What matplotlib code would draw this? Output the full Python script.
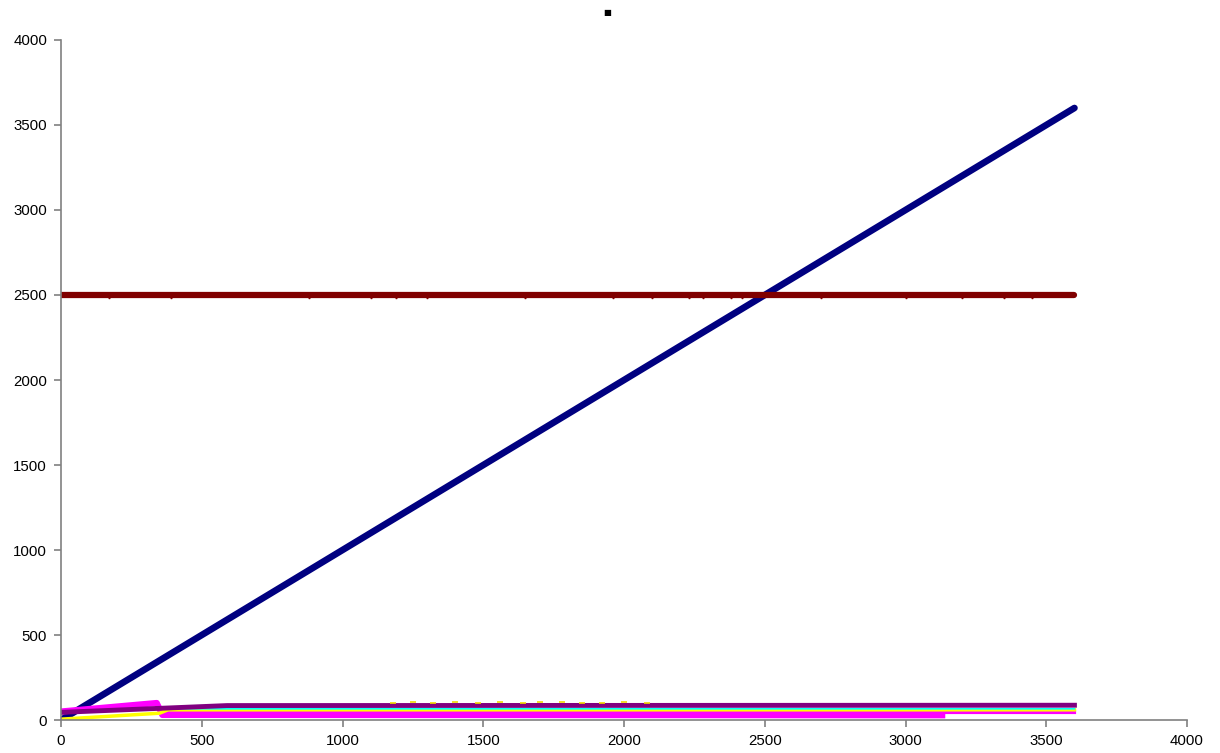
import matplotlib
matplotlib.use("Agg")
import matplotlib.pyplot as plt

plt.rcParams['font.family'] = ['Liberation Sans', 'DejaVu Sans']

# series data (x, y)
navy_x = [0, 3600]
navy_y = [0, 3600]

rojo_x = [0, 3600]
rojo_y = [2500, 2500]
rojo_ruido_x = [170, 390, 880, 1100, 1190, 1300, 1650, 1960, 2100, 2230,
                2280, 2380, 2420, 2700, 3000, 3200, 3350, 3450]
rojo_ruido_y = [2488, 2490, 2488, 2490, 2488, 2490, 2489, 2488, 2490, 2488,
                2489, 2490, 2488, 2490, 2489, 2488, 2490, 2489]

morado_x = [0, 590, 3600]
morado_y = [45, 85, 87]

magenta_x = [0, 340, 360, 3130]
magenta_y = [50, 100, 30, 28]
magenta2_x = [360, 3600]
magenta2_y = [45, 45]

cian_x = [0, 300, 3600]
cian_y = [50, 66, 66]

amarillo_x = [0, 350, 380, 3600]
amarillo_y = [5, 40, 60, 60]
amarillo_pts_x = [1180, 1250, 1320, 1400, 1480, 1560, 1640, 1700, 1780,
                  1850, 1920, 2000, 2080]
amarillo_pts_y = [103, 105, 102, 104, 103, 105, 102, 104, 105, 103, 102, 104, 103]

fig = plt.figure(figsize=(12.2, 7.53), dpi=100)
ax = fig.add_axes([0.05, 0.0438, 0.923, 0.9031])

ax.plot(navy_x, navy_y, color='#000080', lw=4.8, solid_capstyle='round')
ax.plot(rojo_x, rojo_y, color='#800000', lw=4.5, solid_capstyle='round')
ax.plot(rojo_ruido_x, rojo_ruido_y, 'v', color='#800000', ms=2)

ax.plot(magenta_x, magenta_y, color='#FF00FF', lw=4.5)
ax.plot(magenta2_x, magenta2_y, color='#FF00FF', lw=3.0)
ax.plot(amarillo_x, amarillo_y, color='#FFFF00', lw=2.5)
ax.plot(cian_x, cian_y, color='#00FFFF', lw=1.2)
ax.plot(morado_x, morado_y, color='#800080', lw=3.5)
ax.plot(amarillo_pts_x, amarillo_pts_y, '_', color='#F0D800', ms=4, mew=1.2)

ax.set_xlim(0, 4000)
ax.set_ylim(0, 4000)
ax.set_xticks(range(0, 4001, 500))
ax.set_yticks(range(0, 4001, 500))

for lado in ['top', 'right']:
    ax.spines[lado].set_visible(False)
for lado in ['left', 'bottom']:
    ax.spines[lado].set_color('#808080')
    ax.spines[lado].set_linewidth(1.2)
ax.tick_params(direction='out', length=5, width=1.2, color='#808080',
               labelsize=10.8, labelcolor='#000000', pad=5)

fig.text(0.4975, 0.983, '■', fontsize=6, ha='center', va='center',
         family='DejaVu Sans')

fig.savefig('out.png', dpi=100)
